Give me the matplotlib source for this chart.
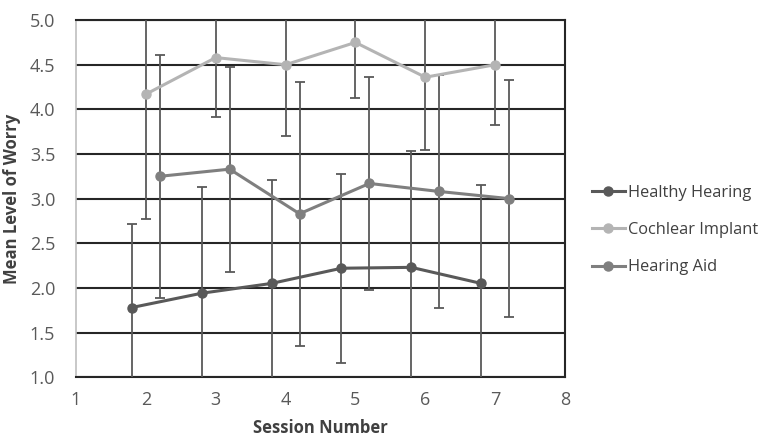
import matplotlib.pyplot as plt
from matplotlib.lines import Line2D
import numpy as np

plt.rcParams['font.family'] = ['Open Sans', 'DejaVu Sans']

sessions = np.array([2, 3, 4, 5, 6, 7])

healthy = [1.78, 1.94, 2.05, 2.22, 2.23, 2.05]
healthy_err = [0.94, 1.19, 1.16, 1.06, 1.30, 1.10]

cochlear = [4.17, 4.58, 4.50, 4.75, 4.36, 4.50]
cochlear_err = [1.40, 0.67, 0.80, 0.62, 0.81, 0.68]

aid = [3.25, 3.33, 2.83, 3.17, 3.08, 3.00]
aid_err = [1.36, 1.15, 1.48, 1.19, 1.30, 1.33]

series = [
    ("Healthy Hearing", healthy, healthy_err, -0.2, "#595959"),
    ("Cochlear Implant", cochlear, cochlear_err, 0.0, "#b4b4b4"),
    ("Hearing Aid", aid, aid_err, 0.2, "#7f7f7f"),
]

fig = plt.figure(figsize=(7.64, 4.37), dpi=100)
ax = fig.add_axes([0.0995, 0.137, 0.64, 0.817])

handles = []
for name, vals, err, shift, col in series:
    ax.errorbar(sessions + shift, vals, yerr=err, color=col, ecolor="#595959",
                elinewidth=1.3, capsize=3.5, capthick=1.3, marker="o",
                markersize=6.5, linewidth=2.2, zorder=3)
    handles.append(Line2D([], [], color=col, marker="o", markersize=6.5,
                          linewidth=2.2, label=name))

ax.set_xlim(1, 8)
ax.set_ylim(1.0, 5.0)
ax.set_xticks(range(1, 9))
ax.set_yticks(np.arange(1.0, 5.01, 0.5))
ax.yaxis.set_major_formatter(plt.FormatStrFormatter('%.1f'))
ax.grid(axis="y", color="#262626", linewidth=1.5, zorder=1)
ax.set_axisbelow(True)

for s in ["top", "right", "bottom"]:
    ax.spines[s].set_color("#262626")
    ax.spines[s].set_linewidth(1.5)
ax.spines["left"].set_color("#bfbfbf")
ax.spines["left"].set_linewidth(1.2)

ax.tick_params(length=0, labelsize=13, labelcolor="#595959")
ax.tick_params(axis="y", pad=15)
ax.tick_params(axis="x", pad=10)
ax.set_xlabel("Session Number", fontsize=12, fontweight="bold", color="#404040", labelpad=7)
ax.set_ylabel("Mean Level of Worry", fontsize=12, fontweight="bold", color="#404040", labelpad=6)

ax.legend(handles=handles, loc="center left", bbox_to_anchor=(1.025, 0.412), frameon=False,
          fontsize=11.8, labelcolor="#404040", handlelength=2.0,
          handletextpad=0.2, labelspacing=1.3)

fig.savefig("out.png", dpi=100)
